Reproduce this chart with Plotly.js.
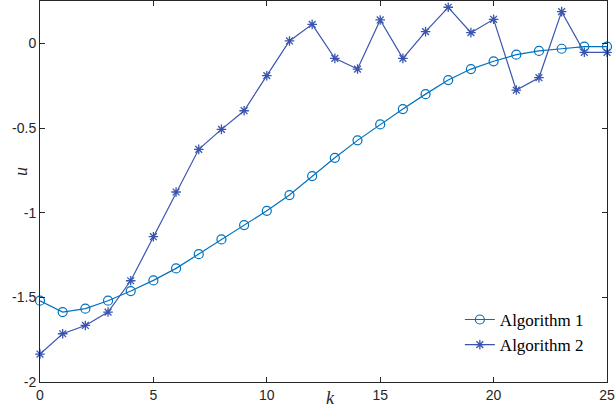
<!DOCTYPE html>
<html>
<head>
<meta charset="utf-8">
<script src="https://cdn.plot.ly/plotly-3.0.1.min.js"></script>
<style>html,body{margin:0;padding:0;background:#fff;}#chart{width:615px;height:413px;}</style>
</head>
<body>
<div id="chart"></div>
<script>
const k = [0,1,2,3,4,5,6,7,8,9,10,11,12,13,14,15,16,17,18,19,20,21,22,23,24,25];
const alg1 = [-1.52,-1.587,-1.567,-1.52,-1.463,-1.40,-1.329,-1.245,-1.158,-1.073,-0.989,-0.896,-0.784,-0.676,-0.573,-0.479,-0.388,-0.300,-0.217,-0.152,-0.106,-0.067,-0.045,-0.032,-0.020,-0.020];
const alg2 = [-1.835,-1.715,-1.666,-1.587,-1.402,-1.142,-0.878,-0.626,-0.508,-0.398,-0.191,0.014,0.112,-0.089,-0.152,0.138,-0.089,0.069,0.213,0.063,0.142,-0.276,-0.203,0.187,-0.053,-0.053];
const xTicks = [0,5,10,15,20,25];
const yTicks = [-2,-1.5,-1,-0.5,0];
const yTickText = ['-2','-1.5','-1','-0.5','0'];
const names = ['Algorithm 1','Algorithm 2'];

const serif = "'Liberation Serif', 'DejaVu Serif', serif";
const traces = [
  {x:k, y:alg1, name:names[0], type:'scatter', mode:'lines+markers', cliponaxis:false,
   line:{color:'#0072BD', width:1.2},
   marker:{symbol:'circle-open', size:9, color:'#0072BD', line:{width:1.2}}},
  {x:k, y:alg2, name:names[1], type:'scatter', mode:'lines+markers', cliponaxis:false,
   line:{color:'#3A55AE', width:1.2},
   marker:{symbol:'asterisk-open', size:8, color:'#3A55AE', line:{width:1.3, color:'#3A55AE'}}}
];
const axisCommon = {showline:true, linecolor:'#262626', linewidth:1, mirror:'ticks', ticks:'inside', ticklen:5, tickcolor:'#262626', showgrid:false, zeroline:false,
  tickfont:{family:"'Liberation Sans', Arial, sans-serif", size:14, color:'#262626'}};
const layout = {
  width:615, height:413,
  margin:{l:40, r:8, t:1, b:31},
  paper_bgcolor:'#fff', plot_bgcolor:'#fff',
  showlegend:true,
  legend:{x:0.968, y:0.05, xanchor:'right', yanchor:'bottom', bgcolor:'rgba(255,255,255,0)', borderwidth:0,
    font:{family:serif, size:17, color:'#000'}, tracegroupgap:0, itemwidth:30},
  xaxis:Object.assign({}, axisCommon, {range:[0,25], tickvals:xTicks, ticktext:xTicks.map(String)}),
  yaxis:Object.assign({}, axisCommon, {range:[-2,0.25], tickvals:yTicks, ticktext:yTickText}),
  annotations:[
    {text:'<i>k</i>', xref:'paper', yref:'paper', x:(330-40)/567, y:-(398-382)/381, xanchor:'center', yanchor:'middle', showarrow:false,
     font:{family:serif, size:18, color:'#262626'}},
    {text:'<i>u</i>', xref:'paper', yref:'paper', x:-(40-21)/567, y:(382-172)/381, xanchor:'center', yanchor:'middle', showarrow:false, textangle:-90,
     font:{family:serif, size:18, color:'#262626'}}
  ]
};
Plotly.newPlot('chart', traces, layout, {displayModeBar:false, staticPlot:true});
</script>
</body>
</html>
